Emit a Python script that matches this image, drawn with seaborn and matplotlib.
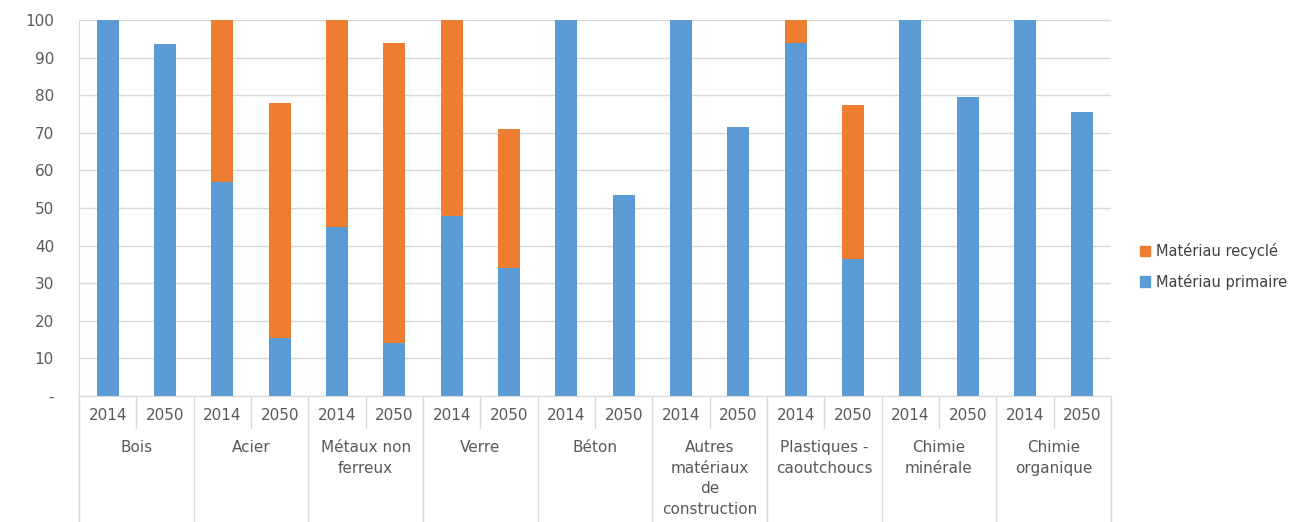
import pandas as pd
import seaborn as sns
import matplotlib.pyplot as plt
from matplotlib.patches import Patch

# Données (en %)
groupes = ["Bois", "Acier", "Métaux non\nferreux", "Verre", "Béton",
           "Autres\nmatériaux\nde\nconstruction", "Plastiques -\ncaoutchoucs",
           "Chimie\nminérale", "Chimie\norganique"]
annees = ["2014", "2050"]
primaire = [100, 93.5, 57, 15.5, 45, 14, 48, 34, 100, 53.5,
            100, 71.5, 94, 36.5, 100, 79.5, 100, 75.5]
recycle = [0, 0, 43, 62.5, 55, 80, 52, 37, 0, 0,
           0, 0, 6, 41, 0, 0, 0, 0]

bleu = "#5B9BD5"
orange = "#ED7D31"
gris = "#595959"

lignes = []
for i, g in enumerate(groupes):
    for j, a in enumerate(annees):
        k = 2 * i + j
        lignes.append({"cle": f"{g}|{a}", "annee": a,
                       "primaire": primaire[k],
                       "total": primaire[k] + recycle[k]})
df = pd.DataFrame(lignes)

sns.set_style("white")
plt.rcParams["font.family"] = ["DejaVu Sans"]

fig = plt.figure(figsize=(13.1, 5.22), dpi=100)
ax = fig.add_axes([79 / 1310, 126 / 522, 1032 / 1310, 376 / 522])

sns.barplot(data=df, x="cle", y="total", color=orange, width=0.38,
            errorbar=None, saturation=1, linewidth=0, ax=ax)
sns.barplot(data=df, x="cle", y="primaire", color=bleu, width=0.38,
            errorbar=None, saturation=1, linewidth=0, ax=ax)

ax.set_ylim(0, 100)
ax.set_xlim(-0.5, len(df) - 0.5)
ax.set_yticks(range(0, 101, 10))
ax.set_yticklabels(["-"] + [str(v) for v in range(10, 101, 10)])
ax.yaxis.grid(True, color="#d9d9d9", linewidth=1)
ax.set_axisbelow(True)
ax.set_xlabel("")
ax.set_ylabel("")
ax.set_xticks(range(len(df)))
ax.set_xticklabels(df["annee"])
ax.tick_params(axis="x", length=0, pad=9, labelsize=11, labelcolor=gris)
ax.tick_params(axis="y", length=0, pad=18, labelsize=11, labelcolor=gris)

for s in ["top", "right"]:
    ax.spines[s].set_visible(False)
for s in ["left", "bottom"]:
    ax.spines[s].set_color("#d9d9d9")

# séparateurs de l'axe des catégories
trans = ax.get_xaxis_transform()
for i in range(len(groupes) + 1):
    x = 2 * i - 0.5
    ax.plot([x, x], [0, -0.34], transform=trans, color="#d9d9d9",
            linewidth=1, clip_on=False)
for i in range(len(groupes)):
    x = 2 * i + 0.5
    ax.plot([x, x], [0, -0.085], transform=trans, color="#d9d9d9",
            linewidth=1, clip_on=False)
    ax.text(x, -0.118, groupes[i], transform=trans, ha="center", va="top",
            fontsize=11, color=gris, linespacing=1.45)

ax.legend(handles=[Patch(color=orange, label="Matériau recyclé"),
                   Patch(color=bleu, label="Matériau primaire")],
          loc="center left", bbox_to_anchor=(1.015, 0.345), frameon=False,
          fontsize=10.5, handlelength=0.7, handleheight=0.7,
          handletextpad=0.4, labelspacing=1.0, labelcolor="#404040")

fig.savefig("out.png", dpi=100)
